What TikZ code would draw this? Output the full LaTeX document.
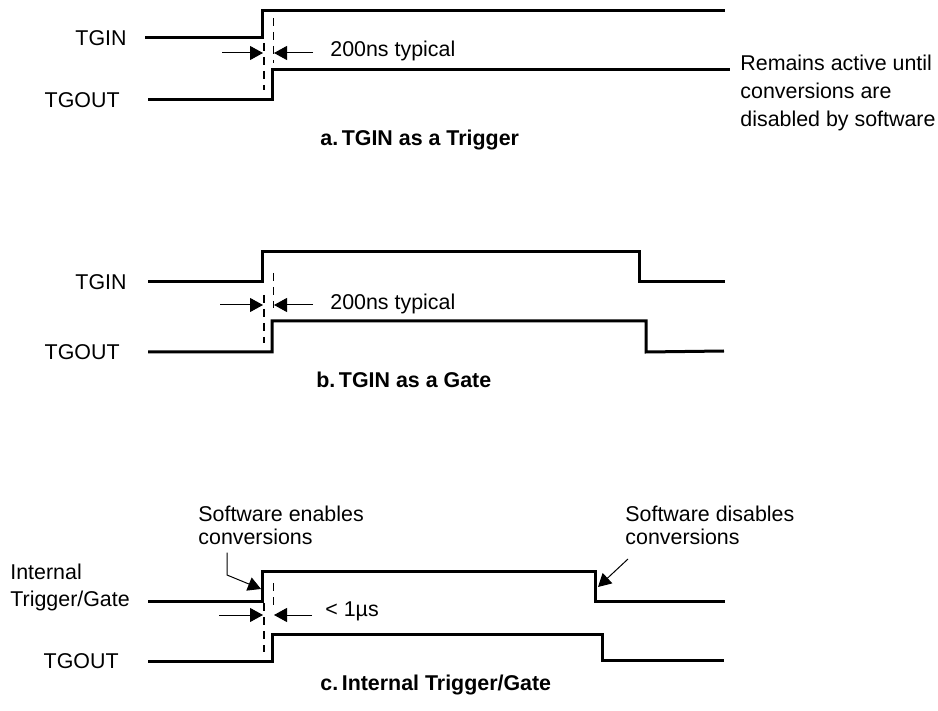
\documentclass[tikz,border=0pt]{standalone}
\usepackage{fontspec}
\setmainfont{Liberation Sans}
\usetikzlibrary{arrows.meta,positioning}

\begin{document}
\begin{tikzpicture}[x=0.5pt,y=-0.5pt,
  sig/.style={line width=1.5pt,line join=miter},
  dim/.style={-{Triangle[length=6.5pt,width=7pt]},line width=0.5pt},
  callout/.style={dim,line join=miter},
  guide/.style={line width=0.7pt,dash pattern=on 4pt off 3pt},
  lbl/.style={font=\fontsize{10.7}{13}\selectfont,inner sep=0pt},
  note/.style={lbl,align=left},
  capt/.style={lbl,font=\fontsize{10.7}{13}\selectfont\bfseries}]
\useasboundingbox (0,0) rectangle (938,711);

% ---- a. TGIN as a Trigger ----
\node[lbl,anchor=east] (aIn) at (127,38) {TGIN};
\node[lbl,anchor=east] (aOut) at (120,100) {TGOUT};
\draw[sig] (aIn.east) ++(18,0) -- (262,38) -- (262,11) -- (725,11);
\draw[sig] (aOut.east) ++(28,0) -- (272,100) -- (272,70) -- (730,70);
\draw[guide] (264,43) -- (264,90);
\draw[guide] (273.5,18) -- (273.5,63);
\coordinate (aTipL) at (263,53);
\coordinate (aTipR) at (274,53);
\draw[dim] (222,53) -- (aTipL);
\draw[dim] (313,53) -- (aTipR);
\node[lbl,anchor=base west] (aTyp) at (330,57) {200ns typical};
\node[note,anchor=north west,font=\fontsize{10.7}{14}\selectfont] (aRem) at (740,55)
  {Remains active until\\conversions are\\disabled by software};
\node[capt,anchor=base west] (aCap) at (320,146) {a.\,TGIN as a Trigger};

% ---- b. TGIN as a Gate ----
\node[lbl,anchor=east] (bIn) at (127,282) {TGIN};
\node[lbl,anchor=east] (bOut) at (120,352) {TGOUT};
\draw[sig] (148,282) -- (262,282) -- (262,252) -- (639,252) -- (639,282) -- (725,282);
\draw[sig] (148,352) -- (272,352) -- (272,321) -- (646,321) -- (646,352) -- (724,351);
\draw[guide] (264,295) -- (264,343);
\draw[guide] (273.5,273) -- (273.5,308);
\coordinate (bTipL) at (263,305);
\coordinate (bTipR) at (274,305);
\draw[dim] (220,305) -- (bTipL);
\draw[dim] (313,305) -- (bTipR);
\node[lbl,anchor=base west] (bTyp) at (330,310) {200ns typical};
\node[capt,anchor=base west] (bCap) at (316,388) {b.\,TGIN as a Gate};

% ---- c. Internal Trigger/Gate ----
\node[note,anchor=north west,font=\fontsize{10.7}{13.5}\selectfont] (cIn) at (10,564)
  {Internal\\Trigger/Gate};
\node[lbl,anchor=east] (cOut) at (119,661) {TGOUT};
\draw[sig] (148,601) -- (262,601) -- (262,571) -- (595,571) -- (595,601) -- (725,601);
\draw[sig] (148,661) -- (272,661) -- (272,634) -- (602,634) -- (602,660) -- (724,660);
\draw[guide] (264,603) -- (264,652);
\draw[guide] (273.5,583) -- (273.5,608);
\coordinate (cTipL) at (263,615);
\coordinate (cTipR) at (274,615);
\draw[dim] (219,615) -- (cTipL);
\draw[dim] (312,615) -- (cTipR);
\node[lbl,anchor=base west] (cTyp) at (325,616) {< 1µs};
\node[note,anchor=north west,font=\fontsize{10.7}{11.5}\selectfont] (enA) at (198,506)
  {Software enables\\conversions};
\node[note,anchor=north west,font=\fontsize{10.7}{11.5}\selectfont] (disA) at (625,506)
  {Software disables\\conversions};
\coordinate (enBend) at (227,575);
\coordinate (enTip) at (261,589);
\coordinate (disTip) at (598,587);
\draw[callout] (enBend |- enA.south) ++(0,7) -- (enBend) -- (enTip);
\draw[callout] (628,559) -- (disTip);
\node[capt,anchor=base west] (cCap) at (320,690) {c.\,Internal Trigger/Gate};
\end{tikzpicture}
\end{document}
